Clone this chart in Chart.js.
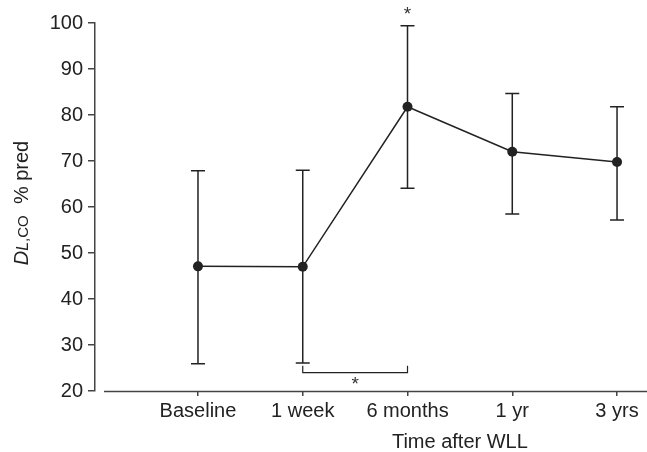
<!DOCTYPE html>
<html>
<head>
<meta charset="utf-8">
<script src="https://cdn.jsdelivr.net/npm/chart.js@4/dist/chart.umd.min.js"></script>
<style>
  html, body { margin: 0; padding: 0; background: #fff; }
  #wrap { width: 647px; height: 452px; }
</style>
</head>
<body>
<div id="wrap"><canvas id="myChart" width="647" height="452"></canvas></div>
<script>
const labels = ['Baseline', '1 week', '6 months', '1 yr', '3 yrs'];
const means = [47.1, 47.0, 81.8, 72.0, 69.8];
const lows = [25.9, 26.1, 64.1, 58.5, 57.2];
const highs = [67.9, 68.0, 99.4, 84.7, 81.8];
const yTicks = [20, 30, 40, 50, 60, 70, 80, 90, 100];
// significance marks: bracket between 1 week and 6 months, star above 6 months
const bracket = { from: 2, to: 3, level: 24, tick: 25.5 };
const starAbove = 3;

const FONT = '"Liberation Sans", Arial, sans-serif';
const INK = '#222';

const extras = {
  id: 'extras',
  beforeDatasetsDraw(chart) {
    const { ctx, scales: { x, y } } = chart;
    ctx.save();
    ctx.strokeStyle = INK;
    ctx.lineWidth = 1.5;
    // error bars
    means.forEach((m, i) => {
      const px = x.getPixelForValue(i + 1);
      const top = y.getPixelForValue(highs[i]);
      const bot = y.getPixelForValue(lows[i]);
      ctx.beginPath();
      ctx.moveTo(px, top); ctx.lineTo(px, bot);
      ctx.moveTo(px - 7, top); ctx.lineTo(px + 7, top);
      ctx.moveTo(px - 7, bot); ctx.lineTo(px + 7, bot);
      ctx.stroke();
    });
    // x axis line, detached from the y axis
    ctx.strokeStyle = '#444';
    ctx.beginPath();
    ctx.moveTo(chart.chartArea.left + 9, y.bottom + 0.5);
    ctx.lineTo(chart.chartArea.right, y.bottom + 0.5);
    ctx.stroke();
    // bracket
    ctx.strokeStyle = INK;
    ctx.lineWidth = 1.2;
    const bx1 = x.getPixelForValue(bracket.from);
    const bx2 = x.getPixelForValue(bracket.to);
    const by = y.getPixelForValue(bracket.level);
    const bt = y.getPixelForValue(bracket.tick);
    ctx.beginPath();
    ctx.moveTo(bx1, bt); ctx.lineTo(bx1, by); ctx.lineTo(bx2, by); ctx.lineTo(bx2, bt);
    ctx.stroke();
    ctx.restore();
  },
  afterDraw(chart) {
    const { ctx, scales: { x, y } } = chart;
    ctx.save();
    ctx.fillStyle = '#333';
    ctx.textAlign = 'center';
    ctx.textBaseline = 'alphabetic';
    ctx.font = '19px ' + FONT;
    // stars
    ctx.fillText('*', x.getPixelForValue(starAbove), y.getPixelForValue(highs[starAbove - 1]) - 6);
    ctx.fillText('*', (x.getPixelForValue(bracket.from) + x.getPixelForValue(bracket.to)) / 2,
      y.getPixelForValue(bracket.level) + 17);
    ctx.fillStyle = INK;
    // x title
    ctx.font = '20px ' + FONT;
    ctx.textBaseline = 'middle';
    ctx.fillText('Time after WLL', x.getPixelForValue(3.5), 442);
    // y title with italic D and small caps L,CO
    const parts = [
      { t: 'D', f: 'italic 20px ' + FONT },
      { t: 'L', f: 'italic 16px ' + FONT },
      { t: ',CO', f: '15px ' + FONT },
      { t: '  % pred', f: '20px ' + FONT }
    ];
    let total = 0;
    parts.forEach(p => { ctx.font = p.f; p.w = ctx.measureText(p.t).width; total += p.w; });
    const cy = (chart.chartArea.top + chart.chartArea.bottom) / 2 - 4;
    ctx.translate(28, cy);
    ctx.rotate(-Math.PI / 2);
    ctx.textAlign = 'left';
    ctx.textBaseline = 'alphabetic';
    let cx = -total / 2;
    parts.forEach(p => { ctx.font = p.f; ctx.fillText(p.t, cx, 0); cx += p.w; });
    ctx.restore();
  }
};

new Chart(document.getElementById('myChart'), {
  type: 'line',
  data: {
    datasets: [{
      data: means.map((v, i) => ({ x: i + 1, y: v })),
      borderColor: INK,
      backgroundColor: INK,
      borderWidth: 1.5,
      pointRadius: 5,
      pointBorderWidth: 0,
      pointBackgroundColor: INK,
      tension: 0
    }]
  },
  options: {
    responsive: false,
    animation: false,
    layout: { autoPadding: false, padding: { top: 23, right: 0, bottom: 0, left: 0 } },
    plugins: { legend: { display: false }, tooltip: { enabled: false } },
    scales: {
      x: {
        type: 'linear',
        min: 0.017,
        max: 5.286,
        afterBuildTicks: (s) => { s.ticks = labels.map((l, i) => ({ value: i + 1 })); },
        afterFit: (s) => { s.height = 61; },
        ticks: {
          callback: (v) => labels[v - 1],
          color: INK,
          font: { family: FONT, size: 20 },
          padding: 3,
          maxRotation: 0,
          autoSkip: false
        },
        grid: { display: true, drawOnChartArea: false, drawTicks: true, tickLength: 5, color: '#444', lineWidth: 1.5 },
        border: { display: false }
      },
      y: {
        min: 20,
        max: 100,
        afterBuildTicks: (s) => { s.ticks = yTicks.map(v => ({ value: v })); },
        afterFit: (s) => { s.width = 95; },
        ticks: {
          color: INK,
          font: { family: FONT, size: 20 },
          padding: 5
        },
        grid: { display: true, drawOnChartArea: false, drawTicks: true, tickLength: 7, color: '#444', lineWidth: 1.5 },
        border: { display: true, color: '#444', width: 1.5 }
      }
    }
  },
  plugins: [extras]
});
</script>
</body>
</html>
